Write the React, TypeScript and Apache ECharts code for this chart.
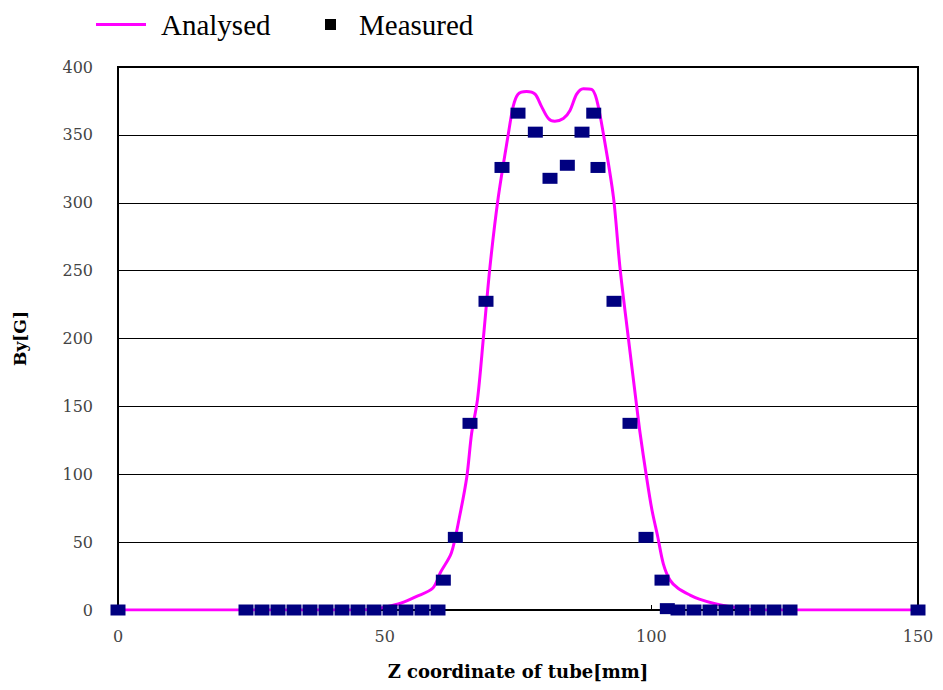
import React, { useEffect, useRef } from "react";
import * as echarts from "echarts";

// Analysed curve (Z [mm], By [G])
const zAnalysed = [0, 45, 48, 50, 53, 56, 59, 60.5, 62.5, 64, 65.4, 66.3, 67.4, 68.5, 69.75, 71.3, 73.2, 74.1, 75, 76.6, 78.2, 79.4, 80.7, 81.9, 83.5, 84.75, 86, 87.25, 88.8, 89.75, 91, 92.9, 94.1, 95.7, 97.1, 97.9, 99.1, 100.1, 101.2, 102.25, 103.5, 105, 107.25, 109, 111.6, 115.4, 118, 120, 150];
const byAnalysed = [0, 0, 0.5, 2, 5, 10, 16, 28, 42, 68, 98, 130, 155, 200, 253, 304, 351, 371, 380, 382, 380, 371, 362, 360, 362, 368, 380, 384, 383.5, 376, 351, 304, 253, 200, 155, 130, 98, 74, 54, 34, 22, 16, 11, 8, 5, 2, 0.5, 0, 0];

// Measured points
const zMeasured = [0, 24, 27, 30, 33, 36, 39, 42, 45, 48, 51, 54, 57, 60, 61, 63.25, 66, 69, 72, 75, 78.25, 81, 84.25, 87, 89.2, 90, 93, 96, 99, 102, 103, 105, 108, 111, 114, 117, 120, 123, 126, 150];
const byMeasured = [0, 0, 0, 0, 0, 0, 0, 0, 0, 0, 0, 0, 0, 0, 22, 53.5, 137.5, 227.4, 326, 366, 352, 318, 327.6, 352, 366, 326, 227.4, 137.5, 53.5, 22, 1, 0, 0, 0, 0, 0, 0, 0, 0, 0];

const seriesNames = ["Analysed", "Measured"];
const xTitle = "Z coordinate of tube[mm]";
const yTitle = "By[G]";

export default function App() {
  const ref = useRef<HTMLDivElement>(null);
  useEffect(() => {
    document.body.style.margin = "0";
    const chart = echarts.init(ref.current!, null, { renderer: "svg" });
    const tickFont = {
      fontFamily: "DejaVu Serif",
      fontSize: 16,
      color: "#444",
    };
    chart.setOption({
      animation: false,
      backgroundColor: "#fff",
      legend: [
        {
          data: [{ name: seriesNames[0], icon: "rect", itemStyle: { color: "#FF00FF" } }],
          left: 96,
          top: 10,
          padding: 0,
          itemWidth: 50,
          itemHeight: 3,
          textStyle: {
            fontFamily: "Liberation Serif",
            fontSize: 29,
            color: "#000",
            padding: [0, 0, 0, 10],
          },
        },
        {
          data: [{ name: seriesNames[1], icon: "rect", itemStyle: { color: "#000" } }],
          left: 325,
          top: 10,
          padding: 0,
          itemWidth: 11,
          itemHeight: 11,
          textStyle: {
            fontFamily: "Liberation Serif",
            fontSize: 29,
            color: "#000",
            padding: [0, 0, 0, 18],
          },
        },
      ],
      grid: {
        left: 118,
        top: 67,
        width: 800,
        height: 543,
        show: true,
        borderColor: "#000",
        borderWidth: 2,
        backgroundColor: "transparent",
      },
      xAxis: {
        type: "value",
        min: 0,
        max: 150,
        interval: 50,
        name: xTitle,
        nameLocation: "middle",
        nameGap: 52,
        nameTextStyle: {
          fontFamily: "DejaVu Serif",
          fontWeight: "bold",
          fontSize: 18,
          color: "#000",
        },
        axisLine: { show: true, onZero: false, lineStyle: { color: "#000", width: 2 } },
        axisTick: { show: true, inside: true, length: 5, lineStyle: { color: "#000" } },
        axisLabel: { ...tickFont, margin: 18 },
        splitLine: { show: false },
      },
      yAxis: {
        type: "value",
        min: 0,
        max: 400,
        interval: 50,
        name: yTitle,
        nameLocation: "middle",
        nameGap: 90,
        nameRotate: 90,
        nameTextStyle: {
          fontFamily: "DejaVu Serif",
          fontWeight: "bold",
          fontSize: 17,
          color: "#000",
        },
        axisLine: { show: true, lineStyle: { color: "#000", width: 2 } },
        axisTick: { show: true, inside: true, length: 5, lineStyle: { color: "#000" } },
        axisLabel: { ...tickFont, margin: 25 },
        splitLine: { show: true, lineStyle: { color: "#000", width: 1 } },
      },
      series: [
        {
          name: seriesNames[0],
          type: "line",
          data: zAnalysed.map((z, i) => [z, byAnalysed[i]]),
          symbol: "none",
          smooth: 0.3,
          lineStyle: { color: "#FF00FF", width: 3 },
          itemStyle: { color: "#FF00FF" },
          z: 2,
        },
        {
          name: seriesNames[1],
          type: "scatter",
          data: zMeasured.map((z, i) => [z, byMeasured[i]]),
          symbol: "rect",
          symbolSize: [15, 11],
          itemStyle: { color: "#000080", opacity: 1 },
          z: 3,
        },
      ],
    });
    return () => chart.dispose();
  }, []);
  return <div ref={ref} style={{ width: 943, height: 690 }} />;
}
